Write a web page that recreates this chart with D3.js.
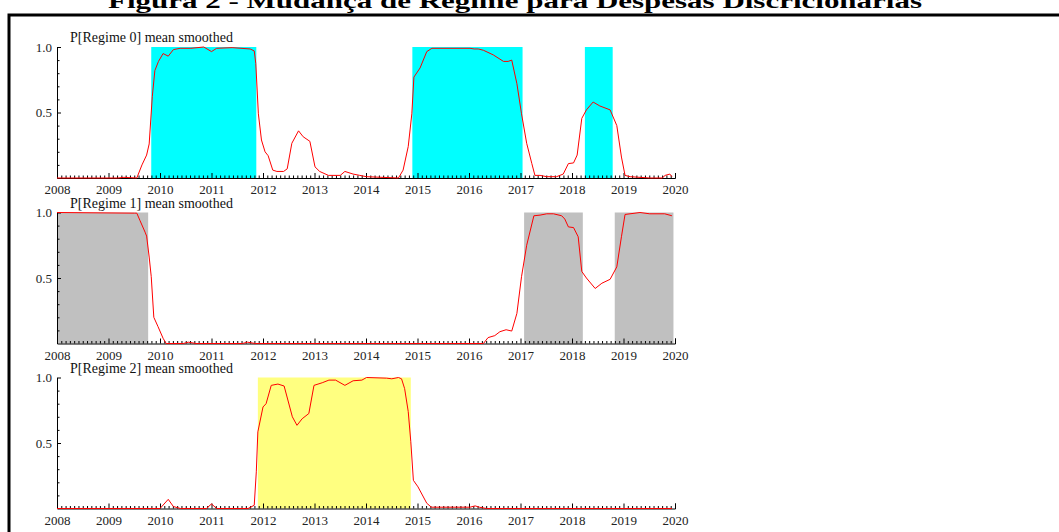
<!DOCTYPE html>
<html>
<head>
<meta charset="utf-8">
<script src="https://cdn.jsdelivr.net/npm/d3@7"></script>
<style>
  html, body { margin: 0; padding: 0; background: #fff; }
  svg { display: block; }
  text { font-family: "Liberation Serif", "Times New Roman", serif; }
</style>
</head>
<body>
<svg id="chart" width="1059" height="532"></svg>
<script>
// ---------------- DATA ----------------
const chartTitle = "Figura 2 - Mudança de Regime para Despesas Discricionárias";
const panelTitles = ["P[Regime 0] mean smoothed", "P[Regime 1] mean smoothed", "P[Regime 2] mean smoothed"];
const yearTicks = [2008, 2009, 2010, 2011, 2012, 2013, 2014, 2015, 2016, 2017, 2018, 2019, 2020];
const yTicks = [0.5, 1.0];
const bandColors = ["#00FFFF", "#C0C0C0", "#FFFF80"];

// shaded regime periods (start year, end year)
const bands0 = [[2009.83, 2011.87], [2014.9, 2017.04], [2018.25, 2018.79]];
const bands1 = [[2008.0, 2009.77], [2017.07, 2018.21], [2018.83, 2019.97]];
const bands2 = [[2011.9, 2014.87]];

// smoothed probabilities [year, value]
const regime0 = [[2008,0],[2009.18,0],[2009.3,0.005],[2009.55,0],[2009.65,0.1],[2009.74,0.175],[2009.79,0.26],
  [2009.85,0.62],[2009.9,0.82],[2009.97,0.89],[2010.06,0.95],[2010.16,0.93],[2010.26,0.98],[2010.39,0.99],
  [2010.6,0.99],[2010.85,1.0],[2011.0,0.965],[2011.1,0.99],[2011.4,0.995],[2011.75,0.985],[2011.83,0.97],
  [2011.86,0.875],[2011.91,0.49],[2011.97,0.29],[2012.04,0.2],[2012.1,0.17],[2012.19,0.06],[2012.27,0.05],
  [2012.4,0.05],[2012.47,0.07],[2012.56,0.265],[2012.69,0.36],[2012.78,0.315],[2012.91,0.28],[2013.01,0.085],
  [2013.1,0.05],[2013.27,0.02],[2013.5,0.02],[2013.59,0.05],[2013.75,0.03],[2013.88,0.02],[2014.01,0.01],
  [2014.63,0],[2014.72,0.06],[2014.82,0.24],[2014.89,0.49],[2014.93,0.77],[2015.05,0.84],[2015.18,0.965],
  [2015.28,0.99],[2016.02,0.99],[2016.1,0.985],[2016.18,0.985],[2016.28,0.975],[2016.47,0.94],[2016.67,0.89],
  [2016.76,0.89],[2016.83,0.9],[2016.93,0.72],[2017.02,0.49],[2017.12,0.265],[2017.22,0.11],[2017.28,0.02],
  [2017.38,0.02],[2017.51,0.01],[2017.7,0.01],[2017.83,0.03],[2017.93,0.11],[2018.03,0.115],[2018.1,0.175],
  [2018.19,0.455],[2018.28,0.52],[2018.41,0.58],[2018.54,0.55],[2018.74,0.52],[2018.87,0.4],[2018.96,0.16],
  [2019.03,0.02],[2019.13,0.01],[2019.51,0],[2019.75,0],[2019.81,0.02],[2019.9,0.03],[2019.94,0.01]];

const regime1 = [[2008,1.0],[2009.5,0.995],[2009.55,0.995],[2009.61,0.94],[2009.71,0.85],[2009.74,0.82],
  [2009.79,0.66],[2009.83,0.51],[2009.88,0.2],[2009.96,0.13],[2010.06,0.04],[2010.12,0],[2010.45,0],
  [2010.55,0.01],[2010.7,0],[2011.6,0],[2011.7,0.01],[2011.85,0],[2016.28,0],[2016.37,0.045],[2016.5,0.06],
  [2016.6,0.09],[2016.72,0.105],[2016.83,0.095],[2016.93,0.23],[2017.02,0.51],[2017.12,0.75],[2017.26,0.975],
  [2017.38,0.98],[2017.51,0.99],[2017.64,0.99],[2017.8,0.975],[2017.86,0.95],[2017.93,0.89],[2018.03,0.885],
  [2018.12,0.815],[2018.19,0.55],[2018.28,0.5],[2018.45,0.42],[2018.58,0.46],[2018.74,0.49],[2018.87,0.585],
  [2018.96,0.815],[2019.03,0.985],[2019.32,1.0],[2019.51,0.99],[2019.8,0.99],[2019.94,0.975]];

const regime2 = [[2008,0],[2010.0,0],[2010.16,0.07],[2010.26,0.015],[2010.4,0],[2010.9,0],[2011.0,0.035],
  [2011.1,0],[2011.71,0],[2011.83,0.025],[2011.87,0.28],[2011.9,0.585],[2012.0,0.775],[2012.06,0.8],
  [2012.16,0.94],[2012.29,0.95],[2012.41,0.935],[2012.57,0.7],[2012.66,0.635],[2012.76,0.685],[2012.89,0.725],
  [2012.99,0.94],[2013.15,0.96],[2013.28,0.98],[2013.41,0.98],[2013.59,0.94],[2013.75,0.975],[2013.92,0.98],
  [2014.01,1.0],[2014.4,0.995],[2014.5,0.99],[2014.63,1.0],[2014.69,0.99],[2014.75,0.915],[2014.82,0.74],
  [2014.87,0.51],[2014.92,0.215],[2015.01,0.165],[2015.18,0.04],[2015.27,0.01],[2016.02,0.01],[2016.12,0.02],
  [2016.2,0.01],[2016.34,0],[2019.94,0]];

// ---------------- DRAW ----------------
const svg = d3.select("#chart");

// outer frame (extends beyond the visible window on right/bottom)
svg.append("rect").attr("x", 9).attr("y", 15).attr("width", 1200).attr("height", 700)
  .attr("fill", "none").attr("stroke", "#000").attr("stroke-width", 3);

// figure title (cut at the top)
svg.append("text").attr("x", 515).attr("y", 8).attr("text-anchor", "middle")
  .attr("font-size", 22).attr("font-weight", "bold").attr("fill", "#000")
  .attr("textLength", 814).attr("lengthAdjust", "spacingAndGlyphs")
  .text(chartTitle);

const x = d3.scaleLinear().domain([2008, 2020]).range([57, 675]);
const panelTops = [47, 212.5, 377.5];
const panelH = 131;

const panels = [
  { title: panelTitles[0], bands: bands0, data: regime0, color: bandColors[0] },
  { title: panelTitles[1], bands: bands1, data: regime1, color: bandColors[1] },
  { title: panelTitles[2], bands: bands2, data: regime2, color: bandColors[2] }
];

const monthTicks = d3.range(2008, 2020, 1 / 12).map(v => +v.toFixed(4)).filter(v => Math.abs(v - Math.round(v)) > 1e-6);
const yMinor = d3.range(0.1, 1.0, 0.1).map(v => +v.toFixed(2)).filter(v => v !== 0.5);

panels.forEach((p, i) => {
  const top = panelTops[i];
  const y = d3.scaleLinear().domain([0, 1]).range([top + panelH, top]);
  const g = svg.append("g");

  // regime bands
  g.selectAll("rect.band").data(p.bands).join("rect")
    .attr("class", "band")
    .attr("x", d => x(d[0])).attr("width", d => x(d[1]) - x(d[0]))
    .attr("y", y(1)).attr("height", y(0) - y(1))
    .attr("fill", p.color);

  // x axis minor ticks
  const xMinorAxis = d3.axisBottom(x).tickValues(monthTicks).tickSize(-2.5).tickFormat("");
  g.append("g").attr("transform", `translate(0,${y(0)})`).call(xMinorAxis)
    .call(a => a.select(".domain").remove())
    .call(a => a.selectAll("line").attr("stroke", "#000"));

  // x axis major
  const xAxis = d3.axisBottom(x).tickValues(yearTicks).tickSizeInner(-5).tickSizeOuter(-5)
    .tickPadding(7).tickFormat(d3.format("d"));
  g.append("g").attr("transform", `translate(0,${y(0)})`).call(xAxis)
    .call(a => a.select(".domain").attr("stroke", "#000"))
    .call(a => a.selectAll("line").attr("stroke", "#000"))
    .call(a => a.selectAll("text").attr("font-size", 13).attr("fill", "#222")
      .attr("font-family", '"Liberation Serif", "Times New Roman", serif'));

  // y axis minor ticks
  const yMinorAxis = d3.axisLeft(y).tickValues(yMinor).tickSize(-2.5).tickFormat("");
  g.append("g").attr("transform", `translate(${x(2008)},0)`).call(yMinorAxis)
    .call(a => a.select(".domain").remove())
    .call(a => a.selectAll("line").attr("stroke", "#000"));

  // y axis major
  const yAxis = d3.axisLeft(y).tickValues(yTicks).tickSizeInner(-4).tickSizeOuter(0)
    .tickPadding(5).tickFormat(d3.format(".1f"));
  g.append("g").attr("transform", `translate(${x(2008)},0)`).call(yAxis)
    .call(a => a.select(".domain").attr("stroke", "#000"))
    .call(a => a.selectAll("line").attr("stroke", "#000"))
    .call(a => a.selectAll("text").attr("font-size", 13).attr("fill", "#222")
      .attr("font-family", '"Liberation Serif", "Times New Roman", serif'));

  // panel title
  g.append("text").attr("x", 70).attr("y", top - 5)
    .attr("font-size", 14).attr("fill", "#111").text(p.title);

  // probability line
  const line = d3.line().x(d => x(d[0])).y(d => y(d[1]));
  g.append("path").datum(p.data).attr("d", line)
    .attr("fill", "none").attr("stroke", "#FF0000").attr("stroke-width", 1);
});
</script>
</body>
</html>
